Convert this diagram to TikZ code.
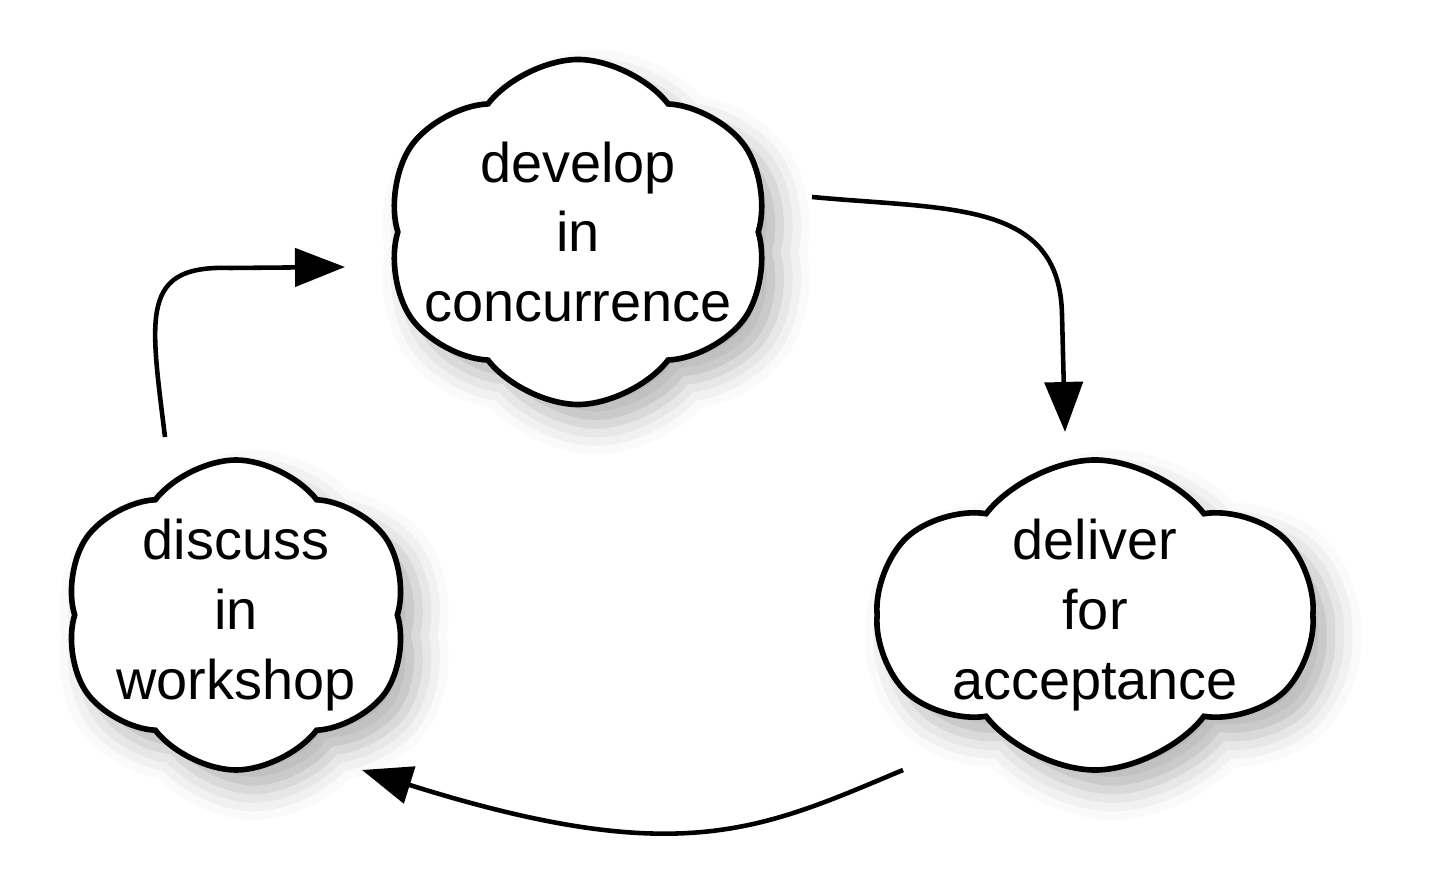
\documentclass[tikz,border=0pt]{standalone}
\usepackage{fontspec}
\setmainfont{Liberation Sans}
\usetikzlibrary{shapes.symbols,arrows.meta,shadows.blur}

\begin{document}
\begin{tikzpicture}[
  puff/.style={cloud, cloud puffs=6, cloud puff arc=105, cloud ignores aspect,
    draw, line width=1.6pt, fill=white, inner xsep=-0.6cm, inner ysep=-0.3cm, align=center,
    font=\fontsize{15.9}{19.9}\selectfont,
    blur shadow={shadow xshift=0.18cm, shadow yshift=-0.2cm, shadow blur radius=0.3cm, shadow opacity=30}},
  flow/.style={line width=1.3pt, -{Triangle[length=0.5cm, width=0.38cm]}}]
\useasboundingbox (0,0) rectangle (14.3,8.75);

\draw 	(5.78,6.43) node[puff, minimum width=3.85cm, minimum height=3.45cm](develop){develop\\in\\concurrence}
  		(2.36,2.60) node[puff, minimum width=3.45cm, minimum height=3.1cm](discuss){discuss\\in\\workshop}
  		(10.95,2.60) node[puff, minimum width=4.35cm, minimum height=3.1cm](deliver){deliver\\for\\acceptance};

% free ends of the arrows
\coordinate (d1) at (8.12,6.78);  \coordinate (e1) at (10.65,4.43);
\coordinate (d2) at (9.03,1.05);  \coordinate (e2) at (3.62,1.05);
\coordinate (d3) at (1.65,4.38);  \coordinate (e3) at (3.45,6.08);

\draw[flow]
    (d1) .. controls (9.5,6.65) and (10.6,6.75) .. (10.62,5.6) -- (e1);
\draw[flow]
    (d2) .. controls (7.6,0.45) and (6.8,0.05) .. (e2);
\draw[flow]
    (d3) .. controls (1.5,5.6) and (1.4,6.1) .. (2.3,6.07) -- (e3);
\end{tikzpicture}
\end{document}
